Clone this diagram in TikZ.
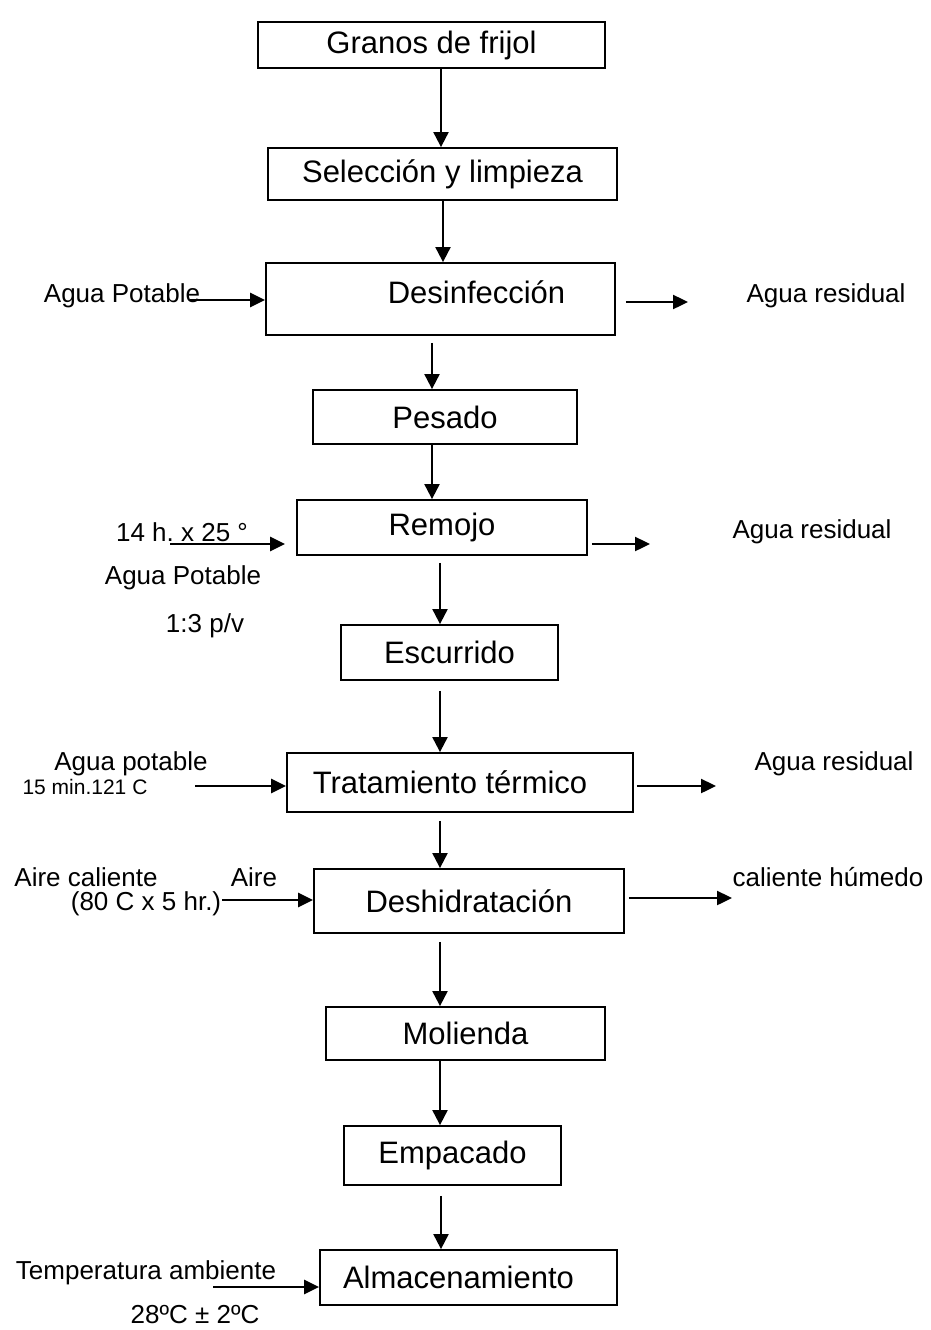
\documentclass[tikz,border=0pt]{standalone}
\usepackage{fontspec}
\setmainfont{Liberation Sans}
\usepackage{tikz}
\usetikzlibrary{positioning, arrows.meta, calc}

\begin{document}
\begin{tikzpicture}[
  x=1pt, y=-1pt,
  box/.style={draw, line width=1.8pt, inner sep=0pt,
              font=\fontsize{31}{37}\selectfont},
  side/.style={inner sep=0pt, font=\fontsize{26}{31}\selectfont},
  small/.style={inner sep=0pt, font=\fontsize{21}{25}\selectfont},
  flow/.style={-{Triangle[length=15pt, width=15pt]}, line width=2pt},
  feed/.style={-{Triangle[length=15pt, width=14pt]}, line width=2.4pt}
]
  \useasboundingbox (0,0) rectangle (930,1330);

  % Main line of the process
  \node[box, minimum width=347, minimum height=46] (gran) at (431.5,45)
    {Granos de frijol};
  \node[box, minimum width=349, minimum height=52] (selec) at (442.5,174)
    {Selección y limpieza};
  \node[box, minimum width=349, minimum height=72] (desinf) at (440.5,299)
    {\hspace*{72pt}Desinfección\raisebox{0pt}[0pt][14pt]{}};
  \node[box, minimum width=264, minimum height=54] (pesado) at (445,417)
    {Pesado};
  \node[box, minimum width=290, minimum height=55] (remojo) at (442,527.5)
    {Remojo};
  \node[box, minimum width=217, minimum height=55] (escurr) at (449.5,652.5)
    {Escurrido};
  \node[box, minimum width=346, minimum height=59] (tratam) at (460,782.5)
    {Tratamiento térmico\hspace*{20pt}};
  \node[box, minimum width=310, minimum height=64] (deshid) at (469,901)
    {Deshidratación};
  \node[box, minimum width=279, minimum height=53] (molien) at (465.5,1033.5)
    {Molienda};
  \node[box, minimum width=217, minimum height=59] (empac) at (452.5,1155.5)
    {Empacado};
  \node[box, minimum width=297, minimum height=55] (almac) at (468.5,1277.5)
    {Almacenamiento\hspace*{20pt}};

  % Arrows between the steps
  \draw[flow] (gran.south -| 441,0) -- (selec.north -| 441,0);
  \draw[flow] (selec.south -| 443,0) -- (desinf.north -| 443,0);
  \draw[flow, shorten <=7pt] (desinf.south -| 432,0) -- (pesado.north -| 432,0);
  \draw[flow] (pesado.south -| 432,0) -- (remojo.north -| 432,0);
  \draw[flow, shorten <=7pt] (remojo.south -| 440,0) -- (escurr.north -| 440,0);
  \draw[flow, shorten <=10pt] (escurr.south -| 440,0) -- (tratam.north -| 440,0);
  \draw[flow, shorten <=8pt] (tratam.south -| 440,0) -- (deshid.north -| 440,0);
  \draw[flow, shorten <=8pt] (deshid.south -| 440,0) -- (molien.north -| 440,0);
  \draw[flow] (molien.south -| 440,0) -- (empac.north -| 440,0);
  \draw[flow, shorten <=10pt] (empac.south -| 441,0) -- (almac.north -| 441,0);

  % Desinfeccion
  \node[side] (apot1) at (122,296) {Agua Potable};
  \coordinate (apot1in) at (190,300);
  \draw[feed] (apot1in) -- (desinf.west |- apot1in);
  \node[side] (ares1) at (826,296) {Agua residual};
  \coordinate (ares1out) at (688,302);
  \draw[feed, shorten <=10pt] (desinf.east |- ares1out) -- (ares1out);

  % Remojo
  \node[side] (cond2) at (182,532) {14 h.\ x 25 °};
  \node[side] (apot2) at (183,578) {Agua Potable};
  \node[side] (rel2) at (205,626) {1:3 p/v};
  \coordinate (apot2in) at (170,544);
  \draw[feed, shorten >=11pt] (apot2in) -- (remojo.west |- apot2in);
  \node[side] (ares2) at (812,532) {Agua residual};
  \coordinate (ares2out) at (650,544);
  \draw[feed, shorten <=4pt] (remojo.east |- ares2out) -- (ares2out);

  % Tratamiento termico
  \node[side] (apot3) at (131,764) {Agua potable};
  \node[small] (cond3) at (85,787) {15 min.121 C};
  \coordinate (apot3in) at (195,786);
  \draw[feed] (apot3in) -- (tratam.west |- apot3in);
  \node[side] (ares3) at (834,764) {Agua residual};
  \coordinate (ares3out) at (716,786);
  \draw[feed, shorten <=3pt] (tratam.east |- ares3out) -- (ares3out);

  % Deshidratacion
  \node[side] (aire4) at (86,877) {Aire caliente};
  \node[side] (aire4b) at (254,877) {Aire};
  \node[side] (cond4) at (146,904) {(80 C x 5 hr.)};
  \coordinate (aire4in) at (222,900);
  \draw[feed] (aire4in) -- (deshid.west |- aire4in);
  \node[side] (hum4) at (828,877) {caliente húmedo};
  \coordinate (hum4out) at (732,898);
  \draw[feed, shorten <=4pt] (deshid.east |- hum4out) -- (hum4out);

  % Almacenamiento
  \node[side] (temp5) at (146,1273) {Temperatura ambiente};
  \node[side] (rango5) at (195,1315) {28ºC ± 2ºC};
  \coordinate (temp5in) at (213,1287);
  \draw[feed] (temp5in) -- (almac.west |- temp5in);
\end{tikzpicture}
\end{document}
